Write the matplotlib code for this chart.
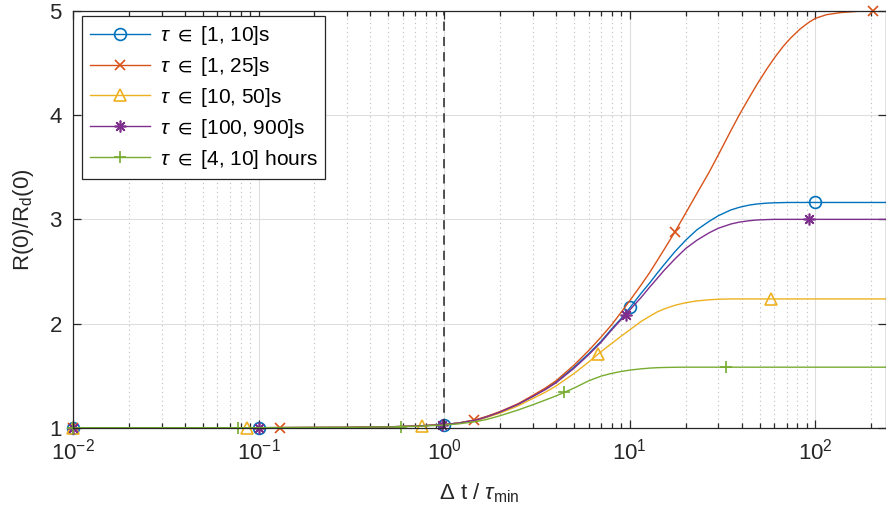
import matplotlib
matplotlib.use("Agg")
import matplotlib.pyplot as plt
from matplotlib.lines import Line2D
from matplotlib.ticker import LogLocator, NullFormatter

plt.rcParams['font.family'] = ['Liberation Sans', 'DejaVu Sans']
plt.rcParams['mathtext.fontset'] = 'custom'
plt.rcParams['mathtext.rm'] = 'Liberation Sans'
plt.rcParams['mathtext.it'] = 'Liberation Sans:italic'
plt.rcParams['mathtext.sf'] = 'Liberation Sans'
plt.rcParams['mathtext.fallback'] = 'stixsans'

# values (x = dt / tau_min)
x_line = [0.01, 0.1, 0.3, 0.5, 0.7, 1, 1.2, 1.5, 1.7, 2, 2.5, 3, 3.5, 4, 5, 6, 7, 8, 9,
          10, 11.5, 12.8, 14, 15.3, 17.5, 20, 23, 26.7, 30, 35, 38.8, 44, 48.6, 55,
          60.7, 67, 73.5, 83, 92, 100, 115, 137, 170, 205, 240]

y_1_10 = [1, 1, 1.003, 1.008, 1.016, 1.03, 1.045, 1.075, 1.105, 1.15,
          1.225, 1.30, 1.37, 1.44, 1.58, 1.71, 1.83, 1.95, 2.05, 2.15,
          2.29, 2.39, 2.48, 2.565, 2.69, 2.80, 2.90, 2.98, 3.035, 3.09,
          3.115, 3.137, 3.148, 3.156, 3.159, 3.161, 3.162, 3.162, 3.162, 3.162,
          3.162, 3.162, 3.162, 3.162, 3.162]
y_1_25 = [1, 1, 1.003, 1.008, 1.016, 1.03, 1.045, 1.08, 1.11, 1.155,
          1.23, 1.31, 1.38, 1.45, 1.60, 1.74, 1.87, 1.99, 2.11, 2.22,
          2.37, 2.49, 2.60, 2.71, 2.88, 3.06, 3.25, 3.45, 3.62, 3.85,
          4.0, 4.17, 4.30, 4.45, 4.56, 4.66, 4.74, 4.83, 4.89, 4.93,
          4.965, 4.985, 4.997, 5.0, 5.0]
y_10_50 = [1, 1, 1.003, 1.008, 1.015, 1.03, 1.045, 1.07, 1.10, 1.14,
           1.21, 1.28, 1.34, 1.40, 1.52, 1.63, 1.73, 1.81, 1.88, 1.94,
           2.02, 2.07, 2.11, 2.14, 2.175, 2.20, 2.217, 2.228, 2.233, 2.236,
           2.236, 2.236, 2.236, 2.236, 2.236, 2.236, 2.236, 2.236, 2.236, 2.236,
           2.236, 2.236, 2.236, 2.236, 2.236]
y_100_900 = [1, 1, 1.003, 1.008, 1.016, 1.03, 1.045, 1.075, 1.105, 1.15,
             1.225, 1.30, 1.365, 1.43, 1.57, 1.70, 1.82, 1.94, 2.04, 2.13,
             2.25, 2.35, 2.43, 2.51, 2.62, 2.72, 2.80, 2.87, 2.915, 2.955,
             2.973, 2.987, 2.994, 2.998, 3.0, 3.0, 3.0, 3.0, 3.0, 3.0,
             3.0, 3.0, 3.0, 3.0, 3.0]
y_4_10h = [1, 1, 1.003, 1.007, 1.013, 1.025, 1.037, 1.06, 1.08, 1.115,
           1.17, 1.22, 1.265, 1.305, 1.38, 1.45, 1.495, 1.522, 1.54, 1.553,
           1.565, 1.572, 1.576, 1.578, 1.58, 1.581, 1.581, 1.581, 1.581, 1.581,
           1.581, 1.581, 1.581, 1.581, 1.581, 1.581, 1.581, 1.581, 1.581, 1.581,
           1.581, 1.581, 1.581, 1.581, 1.581]

# marker positions
mx_1_10 = [0.01, 0.1, 1, 10, 100]
my_1_10 = [1, 1, 1.03, 2.155, 3.162]
mx_1_25 = [0.01, 0.131, 1.45, 17.5, 205]
my_1_25 = [1, 1, 1.075, 2.88, 5.0]
mx_10_50 = [0.01, 0.0865, 0.76, 6.7, 57.4]
my_10_50 = [1, 1, 1.02, 1.705, 2.236]
mx_100_900 = [0.01, 0.1, 0.97, 9.5, 92]
my_100_900 = [1, 1, 1.03, 2.085, 3.0]
mx_4_10h = [0.01, 0.077, 0.585, 4.43, 33]
my_4_10h = [1, 1, 1.01, 1.338, 1.581]

labels = [r'$\tau$ $\in$ [1, 10]s', r'$\tau$ $\in$ [1, 25]s', r'$\tau$ $\in$ [10, 50]s',
          r'$\tau$ $\in$ [100, 900]s', r'$\tau$ $\in$ [4, 10] hours']
colors = ['#0072BD', '#D95319', '#EDB120', '#7E2F8E', '#77AC30']
markers = ['o', 'x', '^', (8, 2, 0), '+']
msizes = [8.5, 7, 9, 8.5, 9]

series = [(y_1_10, mx_1_10, my_1_10), (y_1_25, mx_1_25, my_1_25),
          (y_10_50, mx_10_50, my_10_50), (y_100_900, mx_100_900, my_100_900),
          (y_4_10h, mx_4_10h, my_4_10h)]

fig = plt.figure(figsize=(8.87, 5.21), dpi=100)
ax = fig.add_axes([73 / 887, 93.3 / 521, 813 / 887, 416.7 / 521])

handles = []
for (ys, mx, my), c, m, ms, lab in zip(series, colors, markers, msizes, labels):
    ax.plot(x_line, ys, color=c, lw=1.0)
    ax.plot(mx, my, linestyle='none', marker=m, ms=ms, mfc='none', mec=c,
            mew=1.2, clip_on=False)
    handles.append(Line2D([], [], color=c, lw=1.0, marker=m, ms=ms, mfc='none',
                          mec=c, mew=1.2, label=lab))

ax.axvline(1, color='#262626', lw=1.1, linestyle=(0, (6, 4)))

ax.set_xscale('log')
ax.set_xlim(0.01, 240)
ax.set_ylim(1, 5)
ax.set_yticks([1, 2, 3, 4, 5])
ax.xaxis.set_minor_locator(LogLocator(base=10, subs=range(2, 10), numticks=20))
ax.xaxis.set_minor_formatter(NullFormatter())

ax.grid(True, which='major', color='#dedede', lw=0.8)
ax.grid(True, which='minor', axis='x', color='#bdbdbd', lw=0.8, linestyle=(0, (1, 3)))
ax.set_axisbelow(True)

for s in ax.spines.values():
    s.set_color('#262626')
    s.set_linewidth(0.9)
ax.tick_params(which='both', direction='in', top=True, right=True, colors='#262626',
               labelsize=16, width=0.9)
ax.tick_params(which='major', length=6, pad=8)
ax.tick_params(which='minor', length=3.5)
ax.tick_params(axis='y', which='minor', left=False, right=False)

ax.set_xlabel(r'$\Delta$ t / $\tau_{\rm min}$', fontsize=16, color='#262626', labelpad=12)
ax.set_ylabel(r'R(0)/R$_{\rm d}$(0)', fontsize=16, color='#262626', labelpad=10)

leg = ax.legend(handles=handles, loc='upper left', bbox_to_anchor=(0.011, 0.988),
                borderaxespad=0, fontsize=15, handlelength=2.9, labelspacing=0.38,
                handletextpad=0.45, borderpad=0.38, fancybox=False, framealpha=1,
                edgecolor='#262626')
leg.get_frame().set_linewidth(0.9)

fig.savefig('out.png', dpi=100)
